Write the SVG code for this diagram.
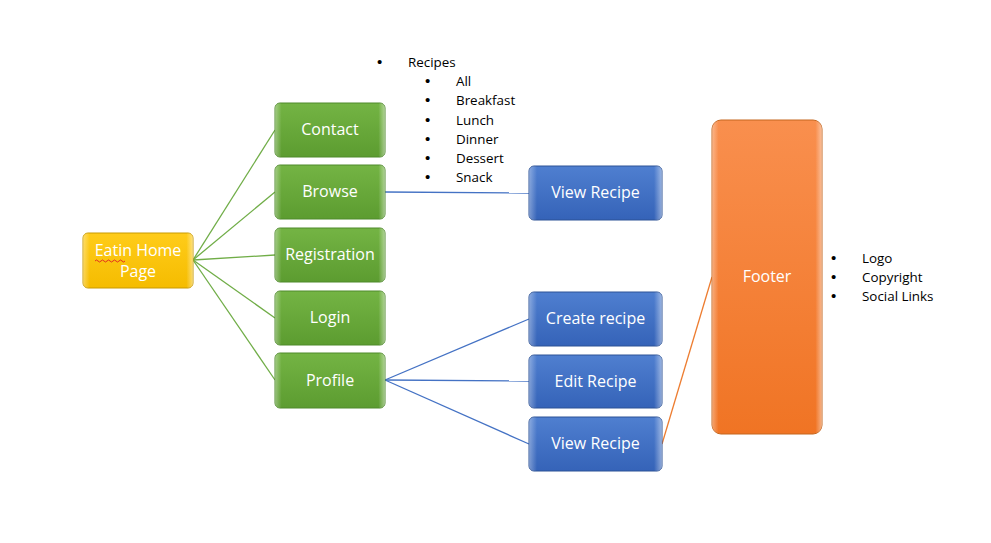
<svg xmlns="http://www.w3.org/2000/svg" width="991" height="543" viewBox="0 0 991 543">
<defs>
<linearGradient id="gG" x1="0" y1="0" x2="0" y2="1"><stop offset="0" stop-color="#74b444"/><stop offset="1" stop-color="#5c9c30"/></linearGradient>
<linearGradient id="gB" x1="0" y1="0" x2="0" y2="1"><stop offset="0" stop-color="#4f7fd0"/><stop offset="1" stop-color="#3563b8"/></linearGradient>
<linearGradient id="gO" x1="0" y1="0" x2="0" y2="1"><stop offset="0" stop-color="#f98f4e"/><stop offset="1" stop-color="#f07424"/></linearGradient>
<linearGradient id="gY" x1="0" y1="0" x2="0" y2="1"><stop offset="0" stop-color="#ffcc1a"/><stop offset="1" stop-color="#f5bc00"/></linearGradient>
<linearGradient id="hl" x1="0" y1="0" x2="1" y2="0"><stop offset="0" stop-color="#fff" stop-opacity="0.35"/><stop offset="0.06" stop-color="#fff" stop-opacity="0"/><stop offset="0.94" stop-color="#fff" stop-opacity="0"/><stop offset="1" stop-color="#fff" stop-opacity="0.45"/></linearGradient>
</defs>
<style>
.g{fill:url(#gG);stroke:#4f8a2b;stroke-width:1}
.b{fill:url(#gB);stroke:#2c5296;stroke-width:1}
.o{fill:url(#gO);stroke:#c5661e;stroke-width:1}
.y{fill:url(#gY);stroke:#c99a00;stroke-width:1}
.h{fill:url(#hl);stroke:none}
.lbl{font-family:"Open Sans","Liberation Sans",sans-serif;font-size:16px;fill:#fff;text-anchor:middle}
.lst{font-family:"Open Sans","Liberation Sans",sans-serif;font-size:13.4px;fill:#000}
.bul{font-family:"Liberation Sans",sans-serif;font-size:15px;fill:#000}
.cg{stroke:#70ad47;stroke-width:1.3;fill:none}
.cb{stroke:#4472c4;stroke-width:1.3;fill:none}
.co{stroke:#ed7d31;stroke-width:1.3;fill:none}
</style>
<rect width="991" height="543" fill="#fff"/>
<g id="connectors">
<line class="cg" x1="193" y1="260" x2="275" y2="130"/>
<line class="cg" x1="193" y1="260" x2="275" y2="192"/>
<line class="cg" x1="193" y1="260" x2="275" y2="255"/>
<line class="cg" x1="193" y1="260" x2="275" y2="318"/>
<line class="cg" x1="193" y1="260" x2="275" y2="380"/>
<line class="cb" x1="385" y1="192" x2="529" y2="193"/>
<line class="cb" x1="385" y1="380" x2="529" y2="319"/>
<line class="cb" x1="385" y1="380" x2="529" y2="381"/>
<line class="cb" x1="385" y1="380" x2="529" y2="444"/>
<line class="co" x1="662" y1="444" x2="712" y2="277"/>
</g>
<g id="home"><rect class="y" x="83" y="233" width="110" height="55" rx="5"/><rect class="h" x="83" y="233" width="110" height="55" rx="5"/><text class="lbl" x="138" y="256">Eatin Home</text><text class="lbl" x="138" y="277">Page</text><path d="M95 261 q1.5 -2 3 0 t3 0 t3 0 t3 0 t3 0 t3 0 t3 0 t3 0 t3 0 t3 0" stroke="#e02020" stroke-width="0.9" fill="none"/></g>
<g id="contact"><rect class="g" x="275" y="103" width="110" height="54" rx="5"/><rect class="h" x="275" y="103" width="110" height="54" rx="5"/><text class="lbl" x="330" y="135">Contact</text></g>
<g id="browse"><rect class="g" x="275" y="165" width="110" height="54" rx="5"/><rect class="h" x="275" y="165" width="110" height="54" rx="5"/><text class="lbl" x="330" y="197">Browse</text></g>
<g id="registration"><rect class="g" x="275" y="228" width="110" height="54" rx="5"/><rect class="h" x="275" y="228" width="110" height="54" rx="5"/><text class="lbl" x="330" y="260">Registration</text></g>
<g id="login"><rect class="g" x="275" y="291" width="110" height="54" rx="5"/><rect class="h" x="275" y="291" width="110" height="54" rx="5"/><text class="lbl" x="330" y="323">Login</text></g>
<g id="profile"><rect class="g" x="275" y="353" width="110" height="55" rx="5"/><rect class="h" x="275" y="353" width="110" height="55" rx="5"/><text class="lbl" x="330" y="386">Profile</text></g>
<g id="view-recipe-1"><rect class="b" x="529" y="166" width="133" height="54" rx="5"/><rect class="h" x="529" y="166" width="133" height="54" rx="5"/><text class="lbl" x="595.5" y="198">View Recipe</text></g>
<g id="create-recipe"><rect class="b" x="529" y="292" width="133" height="54" rx="5"/><rect class="h" x="529" y="292" width="133" height="54" rx="5"/><text class="lbl" x="595.5" y="324">Create recipe</text></g>
<g id="edit-recipe"><rect class="b" x="529" y="355" width="133" height="53" rx="5"/><rect class="h" x="529" y="355" width="133" height="53" rx="5"/><text class="lbl" x="595.5" y="387">Edit Recipe</text></g>
<g id="view-recipe-2"><rect class="b" x="529" y="417" width="133" height="54" rx="5"/><rect class="h" x="529" y="417" width="133" height="54" rx="5"/><text class="lbl" x="595.5" y="449">View Recipe</text></g>
<g id="footer"><rect class="o" x="712" y="120" width="110" height="314" rx="9"/><rect class="h" x="712" y="120" width="110" height="314" rx="9"/><text class="lbl" x="767" y="282">Footer</text></g>
<g id="recipes-list">
<text class="bul" x="377" y="67">•</text><text class="lst" x="408" y="67">Recipes</text>
<text class="bul" x="425" y="86">•</text><text class="lst" x="456" y="86">All</text>
<text class="bul" x="425" y="105">•</text><text class="lst" x="456" y="105">Breakfast</text>
<text class="bul" x="425" y="125">•</text><text class="lst" x="456" y="125">Lunch</text>
<text class="bul" x="425" y="144">•</text><text class="lst" x="456" y="144">Dinner</text>
<text class="bul" x="425" y="163">•</text><text class="lst" x="456" y="163">Dessert</text>
<text class="bul" x="425" y="182">•</text><text class="lst" x="456" y="182">Snack</text>
</g>
<g id="footer-list">
<text class="bul" x="831" y="263">•</text><text class="lst" x="862" y="263">Logo</text>
<text class="bul" x="831" y="282">•</text><text class="lst" x="862" y="282">Copyright</text>
<text class="bul" x="831" y="301">•</text><text class="lst" x="862" y="301">Social Links</text>
</g>
</svg>
